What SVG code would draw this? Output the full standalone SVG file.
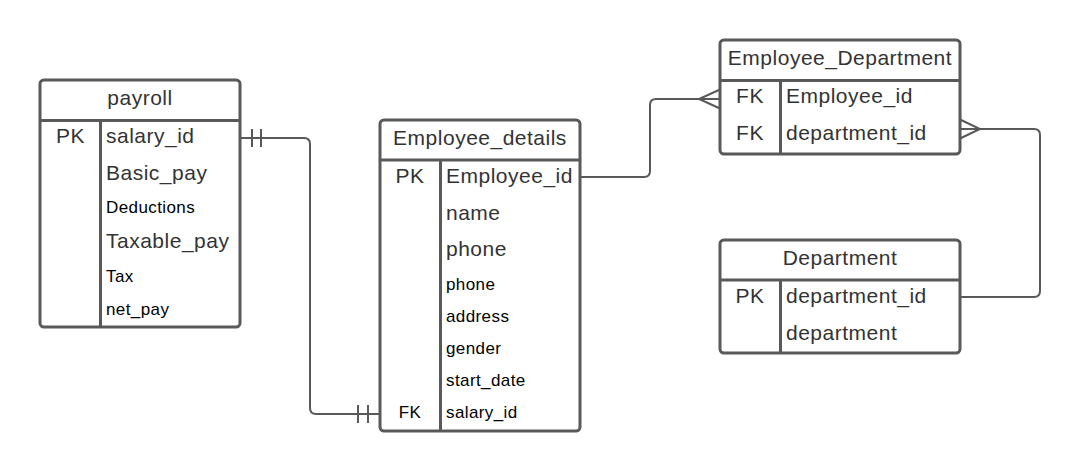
<svg xmlns="http://www.w3.org/2000/svg" width="1080" height="471" viewBox="0 0 1080 471">
<style>
.box{fill:#fff;stroke:#595959;stroke-width:3}
.sep{stroke:#595959;stroke-width:3;fill:none}
.con{stroke:#595959;stroke-width:2;fill:none}
text{font-family:"Liberation Sans",Arial,sans-serif}
.t{font-size:21px;fill:#333;text-anchor:middle;letter-spacing:0.5px}
.l{font-size:21px;fill:#333;letter-spacing:0.5px}
.s{font-size:17px;fill:#000;letter-spacing:0.4px}
.k{font-size:21px;fill:#333;text-anchor:middle;letter-spacing:0.5px}
.ks{font-size:17px;fill:#000;text-anchor:middle;letter-spacing:0.4px}
</style>
<rect width="1080" height="471" fill="#fff"/>
<g id="connectors">
<path class="con" d="M240,138 H304 Q310,138 310,144 V408 Q310,414 316,414 H380"/>
<path class="con" d="M252,129 V147 M261,129 V147"/>
<path class="con" d="M358,405 V423 M368,405 V423"/>
<path class="con" d="M580,177 H644 Q650,177 650,171 V105 Q650,99 656,99 H720"/>
<path class="con" d="M720,89.5 L699,99 L720,108.5"/>
<path class="con" d="M960,129 H1034 Q1040,129 1040,135 V291 Q1040,297 1034,297 H960"/>
<path class="con" d="M960,119.5 L980,129 L960,138.5"/>
</g>
<g id="payroll">
<rect class="box" x="40" y="80" width="200" height="247" rx="4"/>
<path class="sep" d="M40,120.5 H240 M100.5,120.5 V327"/>
<text class="t" x="140" y="105">payroll</text>
<text class="k" x="70.5" y="143">PK</text>
<text class="l" x="106" y="143">salary_id</text>
<text class="l" x="106" y="180">Basic_pay</text>
<text class="s" x="106" y="213">Deductions</text>
<text class="l" x="106" y="248">Taxable_pay</text>
<text class="s" x="106" y="282">Tax</text>
<text class="s" x="106" y="315">net_pay</text>
</g>
<g id="employee_details">
<rect class="box" x="380" y="120" width="200" height="311" rx="4"/>
<path class="sep" d="M380,160 H580 M440.5,160 V431"/>
<text class="t" x="480" y="145">Employee_details</text>
<text class="k" x="410" y="183">PK</text>
<text class="l" x="446" y="183">Employee_id</text>
<text class="l" x="446" y="220">name</text>
<text class="l" x="446" y="256">phone</text>
<text class="s" x="446" y="290">phone</text>
<text class="s" x="446" y="322">address</text>
<text class="s" x="446" y="354">gender</text>
<text class="s" x="446" y="386">start_date</text>
<text class="ks" x="410" y="418">FK</text>
<text class="s" x="446" y="418">salary_id</text>
</g>
<g id="employee_department">
<rect class="box" x="720" y="40" width="240" height="114" rx="4"/>
<path class="sep" d="M720,80.5 H960 M780.5,80.5 V154"/>
<text class="t" x="840" y="65">Employee_Department</text>
<text class="k" x="750" y="103">FK</text>
<text class="l" x="786" y="103">Employee_id</text>
<text class="k" x="750" y="140">FK</text>
<text class="l" x="786" y="140">department_id</text>
</g>
<g id="department">
<rect class="box" x="720" y="240" width="240" height="113" rx="4"/>
<path class="sep" d="M720,280 H960 M780.5,280 V353"/>
<text class="t" x="840" y="265">Department</text>
<text class="k" x="750" y="303">PK</text>
<text class="l" x="786" y="303">department_id</text>
<text class="l" x="786" y="340">department</text>
</g>
</svg>
